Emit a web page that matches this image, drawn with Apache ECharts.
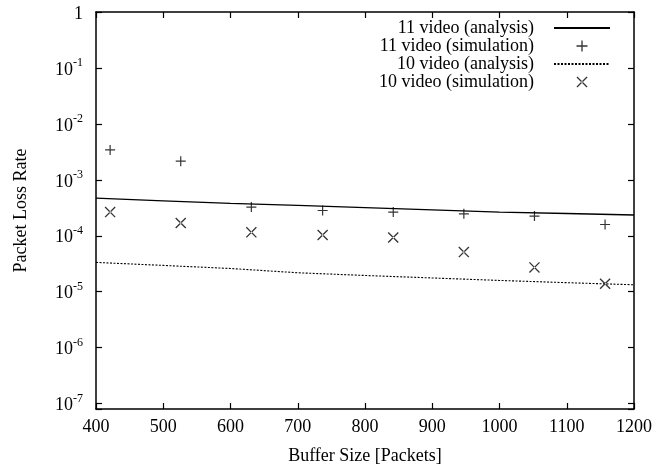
<!DOCTYPE html>
<html>
<head>
<meta charset="utf-8">
<script src="https://cdn.jsdelivr.net/npm/echarts@6/dist/echarts.min.js"></script>
<style>html,body{margin:0;padding:0;background:#fff;}#c{width:672px;height:471px;}</style>
</head>
<body>
<div id="c"></div>
<script>
// Simulation buffer sizes (packets)
var simX = [421, 526, 631, 737, 842, 947, 1052, 1157];
// 11 video (simulation)
var sim11 = [3.43e-3, 2.15e-3, 3.25e-4, 2.83e-4, 2.65e-4, 2.47e-4, 2.25e-4, 1.59e-4];
// 10 video (simulation)
var sim10 = [2.65e-4, 1.69e-4, 1.15e-4, 1.03e-4, 9.3e-5, 5.1e-5, 2.72e-5, 1.39e-5];
// Analysis curves
var anaX = [400, 500, 600, 700, 800, 900, 1000, 1100, 1200];
var ana11 = [4.7e-4, 4.2e-4, 3.8e-4, 3.48e-4, 3.18e-4, 2.9e-4, 2.65e-4, 2.5e-4, 2.35e-4];
var ana10 = [3.34e-5, 2.95e-5, 2.6e-5, 2.18e-5, 1.95e-5, 1.76e-5, 1.59e-5, 1.45e-5, 1.33e-5];

var seriesNames = ['11 video (analysis)', '11 video (simulation)', '10 video (analysis)', '10 video (simulation)'];
var xTitle = 'Buffer Size [Packets]';
var yTitle = 'Packet Loss Rate';

function pairs(xs, ys) { return xs.map(function (x, i) { return [x, ys[i]]; }); }

var FONT = 'Liberation Serif';
var FS = 18;
var PLUS = 'path://M4.4,0h1.2v10h-1.2z M0,4.4h10v1.2h-10z';
var CROSS = 'path://M0,0.85L0.85,0L10,9.15L9.15,10Z M10,0.85L9.15,0L0,9.15L0.85,10Z';

var chart = echarts.init(document.getElementById('c'), null, {renderer: 'canvas'});
var commonX = {type: 'value', min: 400, max: 1200, interval: 100,
  axisLine: {lineStyle: {color: '#000', width: 1.5}},
  axisTick: {inside: true, length: 6, lineStyle: {color: '#000', width: 1.2}},
  splitLine: {show: false}};
var commonY = {type: 'log', logBase: 10, min: 8e-8, max: 1, splitNumber: 7,
  axisLine: {lineStyle: {color: '#000', width: 1.5}},
  axisTick: {inside: true, length: 6, lineStyle: {color: '#000', width: 1.2}},
  splitLine: {show: false}, minorTick: {show: false}};

var hideDot = {color: 'rgba(0,0,0,0)', borderWidth: 0, opacity: 0};

var option = {
  animation: false,
  backgroundColor: '#fff',
  textStyle: {fontFamily: FONT},
  grid: {left: 96, right: 38, top: 12, bottom: 62, show: false},
  legend: {
    orient: 'vertical', align: 'right', right: 61, top: 19, padding: 0,
    itemWidth: 56, itemHeight: 11, itemGap: 0,
    textStyle: {fontFamily: FONT, fontSize: FS, color: '#000', lineHeight: 18, padding: [0, 15, 0, 0]},
    data: [
      {name: seriesNames[0], itemStyle: hideDot},
      {name: seriesNames[1]},
      {name: seriesNames[2], itemStyle: hideDot},
      {name: seriesNames[3]}
    ]
  },
  xAxis: [
    Object.assign({}, commonX, {position: 'bottom',
      name: xTitle, nameLocation: 'middle', nameGap: 38,
      nameTextStyle: {fontFamily: FONT, fontSize: FS, color: '#000'},
      axisLabel: {fontFamily: FONT, fontSize: FS, color: '#000', margin: 9,
        formatter: function (v) { return String(v); }}}),
    Object.assign({}, commonX, {position: 'top', axisLabel: {show: false}})
  ],
  yAxis: [
    Object.assign({}, commonY, {position: 'left',
      name: yTitle, nameLocation: 'middle', nameGap: 66, nameRotate: 90,
      nameTextStyle: {fontFamily: FONT, fontSize: FS, color: '#000'},
      axisLabel: {margin: 13, color: '#000',
        formatter: function (v) {
          var l = Math.log(v) / Math.LN10;
          var e = Math.round(l);
          if (Math.abs(l - e) > 1e-6) return '';
          if (e === 0) return '{b|1}';
          return '{b|10}{s|' + e + '}';
        },
        rich: {
          b: {fontFamily: FONT, fontSize: FS, color: '#000', lineHeight: 22, verticalAlign: 'bottom'},
          s: {fontFamily: FONT, fontSize: 12, color: '#000', verticalAlign: 'top'}
        }}}),
    Object.assign({}, commonY, {position: 'right', axisLabel: {show: false}})
  ],
  series: [
    {name: seriesNames[0], type: 'line', data: pairs(anaX, ana11), symbol: 'none',
      lineStyle: {color: '#000', width: 1.3}, itemStyle: {color: '#000'}},
    {name: seriesNames[1], type: 'scatter', data: pairs(simX, sim11), symbol: PLUS,
      symbolSize: 10, symbolKeepAspect: true, itemStyle: {color: '#000'}},
    {name: seriesNames[2], type: 'line', data: pairs(anaX, ana10), symbol: 'none',
      lineStyle: {color: '#000', width: 1.1, type: [2, 1.5]}, itemStyle: {color: '#000'}},
    {name: seriesNames[3], type: 'scatter', data: pairs(simX, sim10), symbol: CROSS,
      symbolSize: 11, symbolKeepAspect: true, itemStyle: {color: '#000'}}
  ]
};
chart.setOption(option);
</script>
</body>
</html>
